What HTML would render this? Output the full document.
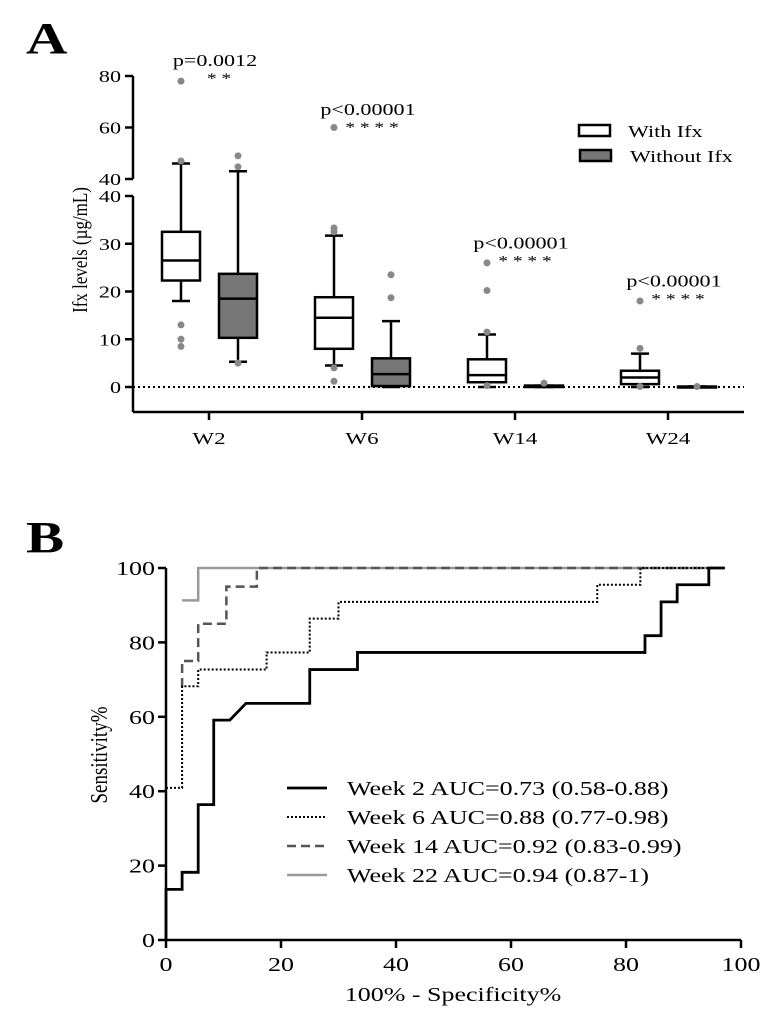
<!DOCTYPE html>
<html><head><meta charset="utf-8"><style>
body{margin:0;background:#fff}
svg{display:block;font-family:"Liberation Serif",serif}
</style></head><body>
<svg id="s" width="780" height="1020" xmlns="http://www.w3.org/2000/svg">
<text transform="translate(26,53) scale(1.3,1)" font-size="44" font-weight="bold">A</text>
<text transform="translate(26,552) scale(1.3,1)" font-size="44" font-weight="bold">B</text>
<g id="A"></g>
<g id="B"></g>
</svg>
<script>
// ---- Panel A data ----
const categories=["W2","W6","W14","W24"];
const withQ1=[22.3,8,1,0.6], withMed=[26.5,14.5,2.5,2], withQ3=[32.5,18.8,5.8,3.4], withMin=[18,4.5,0,0], withMax=[46,31.7,11,7];
const withOut=[[78,47,13,10,8.5],[60,33.3,32.5,4,1.2],[26,20.2,11.5,0.3],[18,8.1,0.1]];
const woQ1=[10.3,0.2,0,0], woMed=[18.5,2.7,0.1,0], woQ3=[23.7,6,0.3,0.1], woMin=[5.3,0,0,0], woMax=[43,13.8,0.3,0.1];
const woOut=[[49,44.7,5],[23.5,18.7],[0.8],[0.1]];
const pLabels=["p=0.0012","p<0.00001","p<0.00001","p<0.00001"];
const stars=["**","****","****","****"];
const pVal=[82,63,28,20];
const lowTicks=[0,10,20,30,40], highTicks=[40,60,80];
// ---- Panel B data ----
const rocNames=["Week 2 AUC=0.73 (0.58-0.88)","Week 6 AUC=0.88 (0.77-0.98)","Week 14 AUC=0.92 (0.83-0.99)","Week 22 AUC=0.94 (0.87-1)"];
const w2X=[0,0,2.8,2.8,5.6,5.6,8.3,8.3,11.1,13.9,25,25,33.3,33.3,83.3,83.3,86.1,86.1,88.9,88.9,94.4,94.4,97.2];
const w2Y=[0,13.6,13.6,18.2,18.2,36.4,36.4,59.1,59.1,63.6,63.6,72.7,72.7,77.3,77.3,81.8,81.8,90.9,90.9,95.5,95.5,100,100];
const w6X=[0,2.8,2.8,5.6,5.6,17.5,17.5,25,25,30,30,75,75,82.5,82.5,97.2];
const w6Y=[40.9,40.9,68.2,68.2,72.7,72.7,77.3,77.3,86.4,86.4,90.9,90.9,95.5,95.5,100,100];
const w14X=[2.8,2.8,5.6,5.6,10.5,10.5,15.8,15.8,97];
const w14Y=[68,75,75,85,85,95,95,100,100];
const w22X=[2.8,5.6,5.6,97];
const w22Y=[91.3,91.3,100,100];
const bTicks=[0,20,40,60,80,100];

const NS="http://www.w3.org/2000/svg";
function mk(p,t,a,txt){const e=document.createElementNS(NS,t);for(const k in a)e.setAttribute(k,a[k]);if(txt!==undefined)e.textContent=txt;p.appendChild(e);return e;}
function tx(p,x,y,size,sx,anchor,s){return mk(p,'text',{transform:`translate(${x},${y}) scale(${sx},1)`,"font-size":size,"text-anchor":anchor},s);}
const A=document.getElementById('A'), B=document.getElementById('B');
const yA=v=>v<=40?387-v*4.775:179-(v-40)*2.575;
const xA=i=>209+i*153;
let e;
e=mk(A,'path',{d:"M133,412 V196 M133,179 V76 M133,412 H744",stroke:"#000","stroke-width":2.5,fill:"none"});

lowTicks.forEach(v=>{mk(A,'line',{x1:125,x2:133,y1:yA(v),y2:yA(v),stroke:"#000","stroke-width":2.5});
 e=tx(A,121,yA(v)+6,17,1.3,"end",v);});
highTicks.forEach(v=>{const y=v==40?179:yA(v);mk(A,'line',{x1:125,x2:133,y1:y,y2:y,stroke:"#000","stroke-width":2.5});
 e=tx(A,121,y+6,17,1.3,"end",v);});
e=mk(A,'line',{x1:133,x2:744,y1:387,y2:387,stroke:"#000","stroke-width":2,"stroke-dasharray":"2,3"});

e=mk(A,'text',{transform:"translate(87,250) rotate(-90) scale(1,1.25)","font-size":17,"text-anchor":"middle"},"Ifx levels (µg/mL)");

categories.forEach((c,i)=>{mk(A,'line',{x1:xA(i),x2:xA(i),y1:412,y2:420,stroke:"#000","stroke-width":2.5});
 e=tx(A,xA(i),444,17,1.35,"middle",c);});
function box(i,off,q1,md,q3,mn,mx,outs,fill,name){
 const cx=xA(i)+off,g=mk(A,'g',{});
 
 mk(g,'path',{d:`M${cx},${yA(q3)} V${yA(mx)} M${cx-9},${yA(mx)} H${cx+9} M${cx},${yA(q1)} V${yA(mn)} M${cx-9},${yA(mn)} H${cx+9}`,stroke:"#000","stroke-width":2.5,fill:"none"});
 mk(g,'rect',{x:cx-19,y:yA(q3),width:38,height:Math.max(yA(q1)-yA(q3),1),fill:fill,stroke:"#000","stroke-width":2.5});
 mk(g,'line',{x1:cx-19,x2:cx+19,y1:yA(md),y2:yA(md),stroke:"#000","stroke-width":2.5});
 outs.forEach(v=>mk(g,'circle',{cx:cx,cy:yA(v),r:3.5,fill:"#888"}));
}
categories.forEach((c,i)=>{
 box(i,-28,withQ1[i],withMed[i],withQ3[i],withMin[i],withMax[i],withOut[i],"#fff","box-with-ifx-"+c.toLowerCase());
 box(i,29,woQ1[i],woMed[i],woQ3[i],woMin[i],woMax[i],woOut[i],"#777","box-without-ifx-"+c.toLowerCase());
 const cx=xA(i)+6,y=yA(pVal[i]);
 e=tx(A,cx,y-5,17,1.3,"middle",pLabels[i]);
 e=tx(A,cx+4,y+12,15,1.3,"middle",stars[i].split('').join(' '));
});
e=mk(A,'g',{});
mk(e,'rect',{x:579,y:125,width:31,height:11,fill:"#fff",stroke:"#000","stroke-width":2.5});
tx(e,628,137,17,1.3,"start","With Ifx");
mk(e,'rect',{x:580,y:150,width:31,height:11,fill:"#777",stroke:"#000","stroke-width":2.5});
tx(e,630,162,17,1.3,"start","Without Ifx");

// ---- Panel B ----
const xB=v=>166+v*5.75, yB=v=>940-v*3.72;
e=mk(B,'path',{d:"M166,568 V940 H741",stroke:"#000","stroke-width":2.5,fill:"none"});

bTicks.forEach(v=>{
 mk(B,'line',{x1:158,x2:166,y1:yB(v),y2:yB(v),stroke:"#000","stroke-width":2.5});
 e=tx(B,155,yB(v)+7,20,1.3,"end",v);
 mk(B,'line',{x1:xB(v),x2:xB(v),y1:940,y2:948,stroke:"#000","stroke-width":2.5});
 e=tx(B,xB(v),971,20,1.3,"middle",v);
});
e=mk(B,'text',{transform:"translate(107,755) rotate(-90) scale(1,1.3)","font-size":19,"text-anchor":"middle"},"Sensitivity%");

e=tx(B,453,1001,20,1.3,"middle","100% - Specificity%");

const series=[[w22X,w22Y,"#999","none",2.5,"roc-week-22"],[w14X,w14Y,"#555","9,5",2.5,"roc-week-14"],[w6X,w6Y,"#000","2,2",2,"roc-week-6"],[w2X,w2Y,"#000","none",2.8,"roc-week-2"]];
series.forEach(s=>{
 const d=s[0].map((x,i)=>(i?"L":"M")+xB(x)+","+yB(s[1][i])).join(" ");
 e=mk(B,'path',{d:d,stroke:s[2],"stroke-dasharray":s[3],"stroke-width":s[4],fill:"none"});
 
});
const legStyles=[["#000","none",2.8],["#000","2,2",2],["#555","9,5",2.5],["#999","none",2.5]];
rocNames.forEach((n,i)=>{
 const y=788+i*29;
 e=mk(B,'g',{});
 mk(e,'line',{x1:287,x2:327,y1:y,y2:y,stroke:legStyles[i][0],"stroke-dasharray":legStyles[i][1],"stroke-width":legStyles[i][2]});
 tx(e,347,y+7,20,1.3,"start",n);
});
</script>
</body></html>
